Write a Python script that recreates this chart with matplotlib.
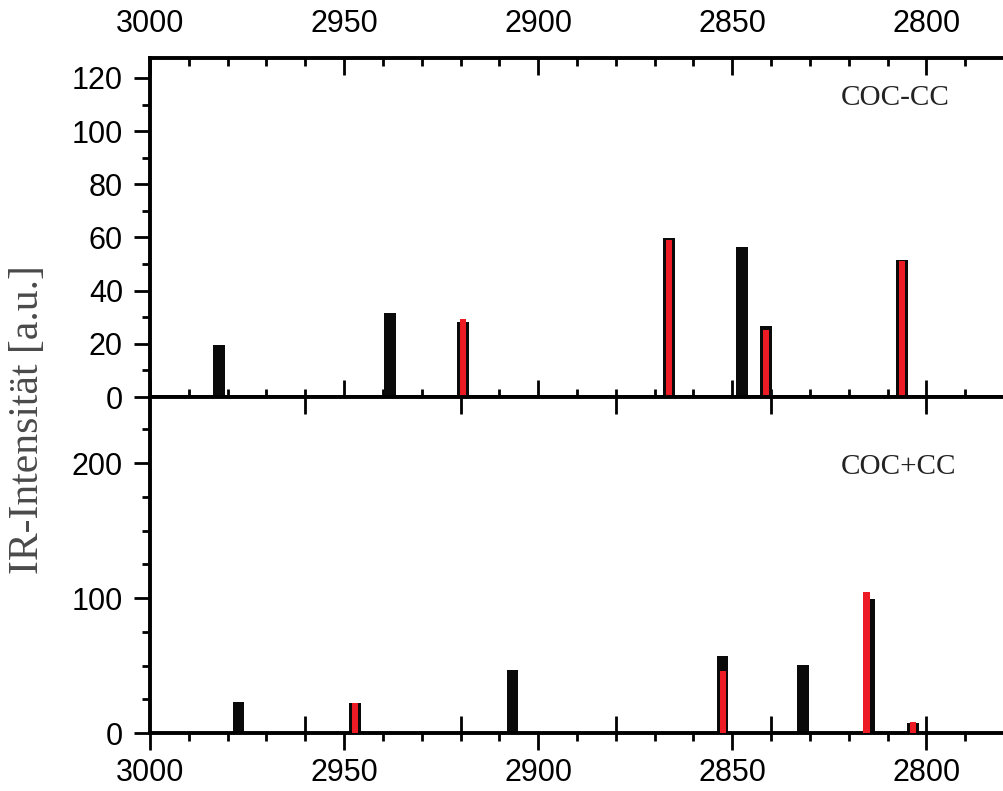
import matplotlib
matplotlib.use("Agg")
import matplotlib.pyplot as plt
from matplotlib.ticker import MultipleLocator

# COC-CC (upper panel)
top_black_wn = [2982.2, 2938.1, 2919.3, 2866.3, 2847.5, 2841.3, 2806.3]
top_black_int = [19.7, 31.7, 28.2, 59.9, 56.6, 26.6, 51.5]
top_red_wn = [2919.3, 2866.3, 2841.3, 2806.3]
top_red_int = [29.2, 58.9, 25.3, 51.0]

# COC+CC (lower panel)
bot_black_wn = [2977.2, 2947.2, 2906.6, 2852.5, 2831.7, 2814.8, 2803.4]
bot_black_int = [23.0, 22.0, 46.7, 57.3, 50.4, 99.3, 7.2]
bot_red_wn = [2947.2, 2852.3, 2815.4, 2803.5]
bot_red_int = [22.0, 46.2, 104.4, 8.4]

extra_ticks = [2960, 2920, 2880, 2840, 2800]

black = '#0a0a0a'
red = '#ed1c24'
serif_font = ['Liberation Serif', 'DejaVu Serif']

plt.rcParams['font.family'] = ['Liberation Sans', 'DejaVu Sans']
plt.rcParams['font.size'] = 22

fig = plt.figure(figsize=(10.04, 7.91), dpi=100)
ax1 = fig.add_axes([0.1494, 0.4981, 0.8506, 0.4286])
ax2 = fig.add_axes([0.1494, 0.0733, 0.8506, 0.4248])

spine_w = 2.8
tick_w = 2.0

for ax in (ax1, ax2):
    ax.set_xlim(3000, 2780)
    ax.xaxis.set_major_locator(MultipleLocator(50))
    ax.xaxis.set_minor_locator(MultipleLocator(10))
    for s in ('left', 'bottom', 'top'):
        ax.spines[s].set_linewidth(spine_w)
    ax.spines['right'].set_visible(False)
    ax.tick_params(axis='y', which='both', direction='out', right=False, width=tick_w)
    ax.tick_params(axis='y', which='major', length=11.5, pad=8)
    ax.tick_params(axis='y', which='minor', length=5.5)

# upper panel
ax1.bar(top_black_wn, top_black_int, width=3.0, color=black, zorder=2)
ax1.bar(top_red_wn, top_red_int, width=1.6, color=red, zorder=3)
ax1.set_ylim(0, 127.5)
ax1.yaxis.set_major_locator(MultipleLocator(20))
ax1.yaxis.set_minor_locator(MultipleLocator(10))
ax1.tick_params(axis='x', which='both', direction='in', top=True, bottom=True,
                labeltop=True, labelbottom=False, width=tick_w)
ax1.tick_params(axis='x', which='major', length=12, pad=14)
ax1.tick_params(axis='x', which='minor', length=6)
ax1.text(0.872, 0.882, 'COC-CC', transform=ax1.transAxes, ha='center', va='center',
         family=serif_font, fontsize=21, color='#222222')

# lower panel
ax2.bar(bot_black_wn, bot_black_int, width=3.0, color=black, zorder=2)
ax2.bar(bot_red_wn, bot_red_int, width=1.6, color=red, zorder=3)
ax2.set_ylim(0, 249)
ax2.yaxis.set_major_locator(MultipleLocator(100))
ax2.yaxis.set_minor_locator(MultipleLocator(25))
ax2.tick_params(axis='x', which='both', direction='out', top=False, bottom=True,
                labelbottom=True, width=tick_w)
ax2.tick_params(axis='x', which='major', length=12, pad=6)
ax2.tick_params(axis='x', which='minor', length=6)
ax2.text(0.877, 0.792, 'COC+CC', transform=ax2.transAxes, ha='center', va='center',
         family=serif_font, fontsize=21, color='#222222')

# extra inward ticks on lower panel (every 40)
ax3 = ax2.twiny()
ax3.set_xlim(3000, 2780)
ax3.set_xticks(extra_ticks)
for s in ax3.spines.values():
    s.set_visible(False)
ax3.tick_params(axis='x', direction='in', top=True, bottom=True, labeltop=False,
                labelbottom=False, length=12, width=tick_w)

fig.text(0.028, 0.469, 'IR-Intensität [a.u.]', rotation=90, ha='center', va='center',
         family=serif_font, fontsize=30, color='#4a4a4a')

fig.savefig('out.png', dpi=100)
